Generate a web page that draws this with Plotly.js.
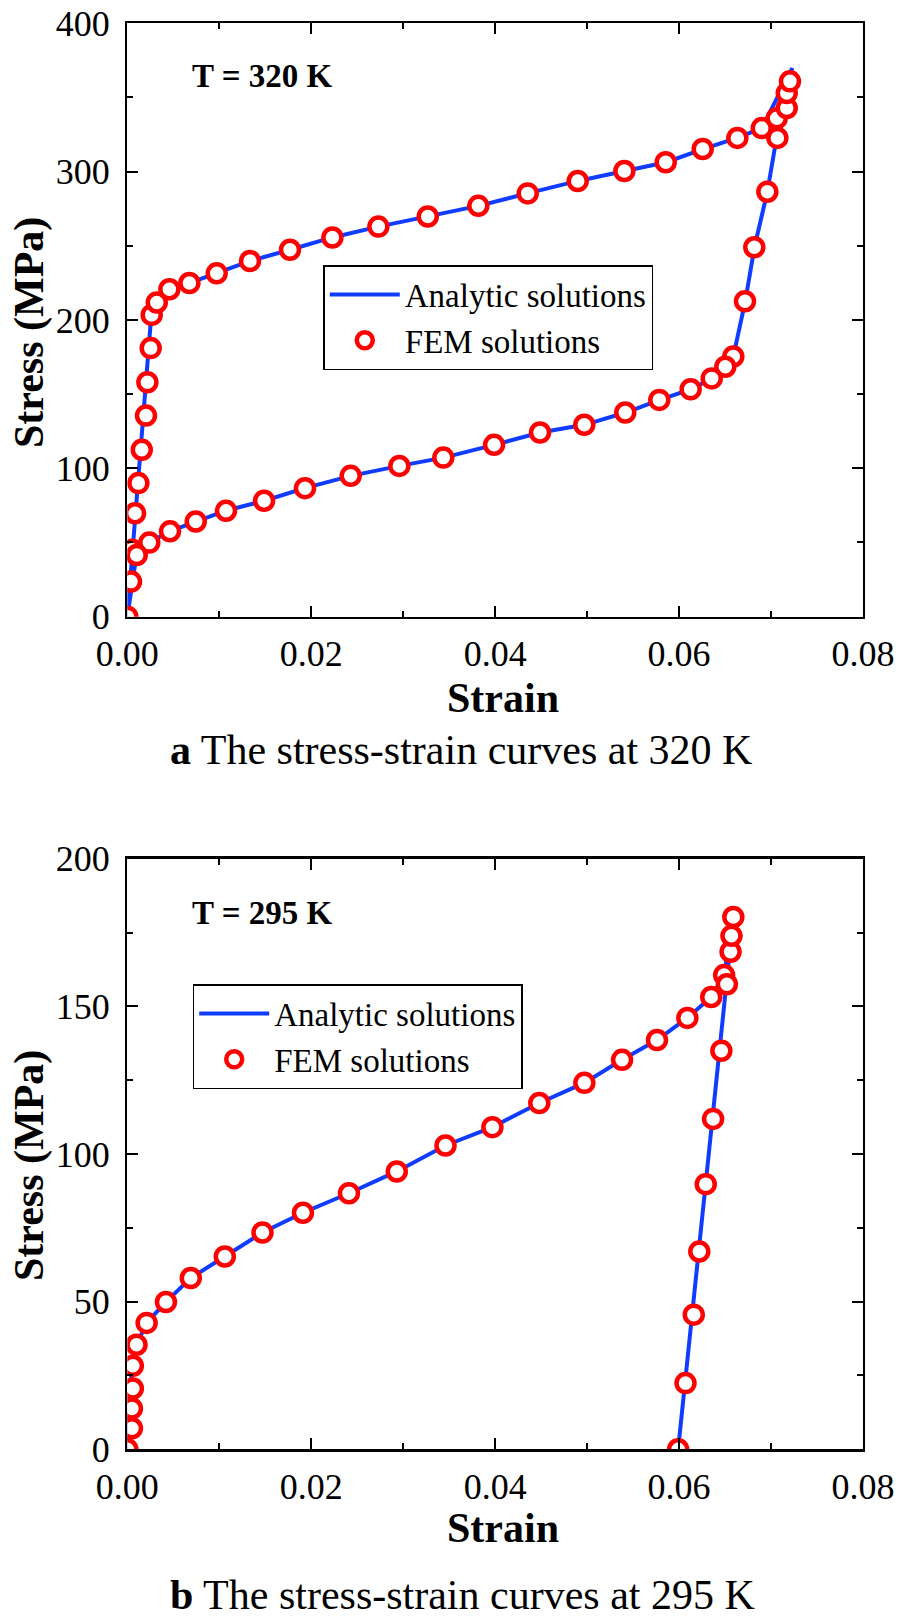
<!DOCTYPE html>
<html>
<head>
<meta charset="utf-8">
<script src="https://cdn.plot.ly/plotly-3.0.1.min.js"></script>
<style>
  html, body { margin: 0; padding: 0; background: #ffffff; }
  #chart { width: 898px; height: 1624px; }
</style>
</head>
<body>
<div id="chart"></div>
<script>
// ---------- Panel a : T = 320 K ----------
const strainA320 = [0, 0.0026, 0.0032, 0.0046, 0.0068, 0.0097, 0.0133, 0.0177, 0.0223, 0.0273, 0.0327, 0.0382, 0.0435, 0.0490, 0.0541, 0.0586, 0.0626, 0.0663, 0.0690, 0.0723,
                    0.0706, 0.0696, 0.0682, 0.0672, 0.0659, 0.0650, 0.0636, 0.0613, 0.0579, 0.0542, 0.0497, 0.0449, 0.0399, 0.0344, 0.0296, 0.0243, 0.0193, 0.0149, 0.0107, 0.0074, 0.0046, 0.0024, 0.0010, 0];
const stressA320 = [0, 203, 211.7, 220.7, 225, 231.4, 239.7, 247.3, 255.6, 262.9, 269.7, 276.9, 285.3, 293.7, 300.4, 306.3, 315.2, 322.7, 329.3, 369.7,
                    322.7, 286.4, 249, 212.6, 175.4, 168.4, 160.6, 153.3, 146.1, 137.6, 129.3, 124.1, 115.8, 107.2, 101.6, 94.9, 86.6, 78.1, 71.4, 64.1, 57.5, 49.9, 41.6, 0];

const strainF320 = [0, 0.0004, 0.0005, 0.00084, 0.0012, 0.00157, 0.00203, 0.00218, 0.00254, 0.00265, 0.0032, 0.00457, 0.00675, 0.00972, 0.01334, 0.01769, 0.0223, 0.0273, 0.03267, 0.03817, 0.04354, 0.04898, 0.05405, 0.05855, 0.06257, 0.06634, 0.06899, 0.07062, 0.07171, 0.07171, 0.07206,
                    0.07069, 0.0696, 0.06818, 0.06717, 0.0659, 0.06503, 0.06355, 0.06126, 0.05785, 0.05415, 0.04969, 0.04488, 0.03988, 0.03436, 0.02958, 0.02429, 0.01932, 0.01487, 0.01073, 0.00744, 0.00464, 0.00239, 0.00102];
const stressF320 = [0, 23.6, 45, 69.7, 90, 112.5, 135.5, 158, 181, 203.4, 211.7, 220.7, 224.9, 231.4, 239.7, 247.3, 255.6, 262.9, 269.7, 276.9, 285.3, 293.7, 300.4, 306.3, 315.2, 322.7, 329.3, 336, 342.8, 352.9, 360.8,
                    322.7, 286.4, 249, 212.6, 175.4, 168.4, 160.6, 153.3, 146.1, 137.6, 129.3, 124.1, 115.8, 107.2, 101.6, 94.9, 86.6, 78.1, 71.4, 64.1, 57.5, 49.9, 41.6];

// ---------- Panel b : T = 295 K ----------
const strainA295 = [0, 0.0005, 0.0010, 0.0021, 0.0042, 0.0069, 0.0106, 0.0147, 0.0191, 0.0241, 0.0293, 0.0346, 0.0397, 0.0448, 0.0497, 0.0538, 0.0576, 0.0609, 0.0635, 0.0649, 0.0659, 0.0599];
const stressA295 = [0, 28.3, 35.4, 42.8, 49.9, 58, 65.3, 73.4, 80.1, 86.7, 94.1, 102.9, 109.1, 117.3, 124.1, 131.9, 138.6, 146.1, 153.2, 160.6, 180.3, 0];

const strainF295 = [0, 0.0005, 0.0005, 0.0006, 0.0006, 0.0010, 0.0021, 0.0042, 0.0069, 0.0106, 0.0147, 0.0191, 0.0241, 0.0293, 0.0346, 0.0397, 0.0448, 0.0497, 0.0538, 0.0576, 0.0609, 0.0635, 0.0649, 0.0656, 0.0657, 0.0659,
                    0.0652, 0.0646, 0.0637, 0.0629, 0.0622, 0.0616, 0.0607, 0.0599];
const stressF295 = [0, 7.1, 13.8, 20.6, 28.3, 35.4, 42.8, 49.9, 58, 65.3, 73.4, 80.1, 86.7, 94.1, 102.9, 109.1, 117.3, 124.1, 131.9, 138.6, 146.1, 153.2, 160.6, 168.5, 173.9, 180.3,
                    157.5, 135, 111.9, 89.8, 67, 45.6, 22.4, 0];

const seriesNames = ['Analytic solutions', 'FEM solutions'];
const panelLabels = ['T = 320 K', 'T = 295 K'];
const captions = ['<b>a</b> The stress-strain curves at 320 K', '<b>b</b> The stress-strain curves at 295 K'];
const xTitle = 'Strain';
const yTitle = 'Stress (MPa)';

const FONT = 'Liberation Serif, Times New Roman, Times, serif';
const BLUE = 'rgb(16,60,255)';
const RED = 'rgb(255,0,0)';

function lineTrace(x, y, xa, ya, leg) {
  return { x: x, y: y, xaxis: xa, yaxis: ya, type: 'scatter', mode: 'lines',
           name: seriesNames[0], legend: leg,
           line: { color: BLUE, width: 4 } };
}
function markTrace(x, y, xa, ya, leg) {
  return { x: x, y: y, xaxis: xa, yaxis: ya, type: 'scatter', mode: 'markers',
           name: seriesNames[1], legend: leg,
           marker: { symbol: 'circle', size: 18, color: '#ffffff', line: { color: RED, width: 4.5 } } };
}

const data = [
  lineTrace(strainA320, stressA320, 'x', 'y', 'legend'),
  markTrace(strainF320, stressF320, 'x', 'y', 'legend'),
  lineTrace(strainA295, stressA295, 'x2', 'y2', 'legend2'),
  markTrace(strainF295, stressF295, 'x2', 'y2', 'legend2')
];

function xAxis(anchor) {
  return {
    anchor: anchor, domain: [0.1418, 0.9610], range: [0, 0.08],
    dtick: 0.02, tick0: 0, tickformat: '.2f',
    ticks: 'inside', ticklen: 11, tickwidth: 2, tickcolor: '#000',
    minor: { dtick: 0.01, ticks: 'inside', ticklen: 6, tickwidth: 2, tickcolor: '#000' },
    showline: true, linewidth: 2.5, linecolor: '#000', mirror: 'ticks',
    showgrid: false, zeroline: false,
    tickfont: { family: FONT, size: 36, color: '#000' },
    ticklabelstandoff: 4,
    automargin: false
  };
}
function yAxis(anchor, domain, maxv, dt, mdt) {
  return {
    anchor: anchor, domain: domain, range: [0, maxv],
    dtick: dt, tick0: 0,
    ticks: 'inside', ticklen: 11, tickwidth: 2, tickcolor: '#000',
    minor: { dtick: mdt, ticks: 'inside', ticklen: 6, tickwidth: 2, tickcolor: '#000' },
    showline: true, linewidth: 2.5, linecolor: '#000', mirror: 'ticks',
    showgrid: false, zeroline: false,
    tickfont: { family: FONT, size: 36, color: '#000' },
    ticklabelstandoff: 8,
    automargin: false
  };
}

const legendCommon = {
  xref: 'paper', yref: 'paper', xanchor: 'left', yanchor: 'top',
  font: { family: FONT, size: 33, color: '#000' },
  bgcolor: '#ffffff', bordercolor: '#000', borderwidth: 1.5,
  itemwidth: 70, traceorder: 'normal', tracegroupgap: 0
};

function ann(text, x, y, xanchor, size, angle) {
  return { text: text, xref: 'paper', yref: 'paper', x: x, y: y, xanchor: xanchor, yanchor: 'middle',
           showarrow: false, textangle: angle || 0, font: { family: FONT, size: size, color: '#000' } };
}

const layout = {
  width: 898, height: 1624,
  margin: { l: 0, r: 0, t: 0, b: 0, pad: 0 },
  paper_bgcolor: '#ffffff', plot_bgcolor: '#ffffff',
  font: { family: FONT, color: '#000' },
  showlegend: true,
  xaxis: xAxis('y'),
  yaxis: yAxis('x', [0.6203, 0.9857], 400, 100, 50),
  xaxis2: xAxis('y2'),
  yaxis2: yAxis('x2', [0.1076, 0.4712], 200, 50, 25),
  legend: Object.assign({}, legendCommon, { x: 0.360, y: 1 - 265 / 1624 }),
  legend2: Object.assign({}, legendCommon, { x: 0.2146, y: 1 - 984 / 1624 }),
  annotations: [
    ann('<b>' + panelLabels[0] + '</b>', 0.2112, 0.9530, 'left', 33),
    ann('<b>' + panelLabels[1] + '</b>', 0.2112, 0.4378, 'left', 33),
    ann('<b>' + xTitle + '</b>', 0.5601, 1 - 698 / 1624, 'center', 42),
    ann('<b>' + xTitle + '</b>', 0.5601, 1 - 1528 / 1624, 'center', 42),
    ann('<b>' + yTitle + '</b>', 29 / 898, 1 - 333 / 1624, 'center', 42, -90),
    ann('<b>' + yTitle + '</b>', 29 / 898, 1 - 1166 / 1624, 'center', 42, -90),
    ann(captions[0], 0.5139, 0.5382, 'center', 42),
    ann(captions[1], 0.5150, 0.0179, 'center', 42)
  ]
};

Plotly.newPlot('chart', data, layout, { staticPlot: true, displayModeBar: false });
</script>
</body>
</html>
